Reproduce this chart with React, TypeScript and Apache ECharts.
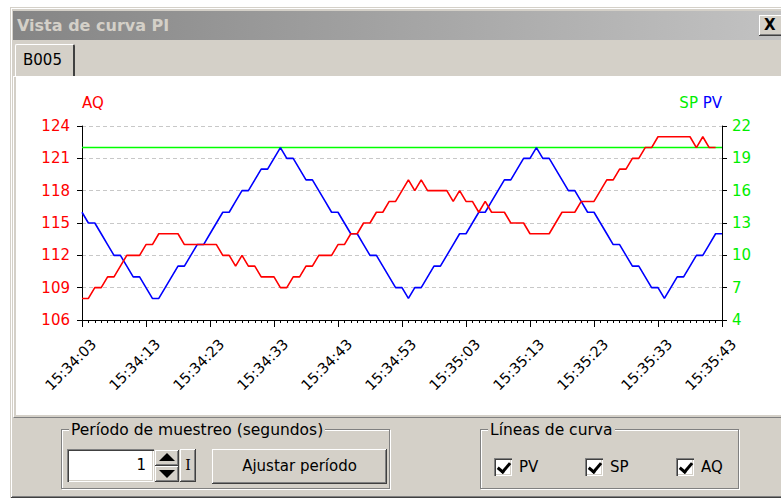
import React, { useEffect, useRef } from "react";
import * as echarts from "echarts";

// ---- data ----
const TIME_LABELS = [
  "15:34:03", "15:34:13", "15:34:23", "15:34:33", "15:34:43", "15:34:53",
  "15:35:03", "15:35:13", "15:35:23", "15:35:33", "15:35:43",
];

// PV samples, one per second (right axis)
const PV = [
  14, 13, 13, 12, 11, 10, 10, 9, 8, 8,
  7, 6, 6, 7, 8, 9, 9, 10, 11, 11,
  12, 13, 14, 14, 15, 16, 16, 17, 18, 18,
  19, 20, 19, 19, 18, 17, 17, 16, 15, 14,
  14, 13, 12, 12, 11, 10, 10, 9, 8, 7,
  7, 6, 7, 7, 8, 9, 9, 10, 11, 12,
  12, 13, 14, 14, 15, 16, 17, 17, 18, 19,
  19, 20, 19, 19, 18, 17, 16, 16, 15, 14,
  14, 13, 12, 11, 11, 10, 9, 9, 8, 7,
  7, 6, 7, 8, 8, 9, 10, 10, 11, 12,
  12,
];

// SP samples, one per second (right axis)
const SP = [
  20, 20, 20, 20, 20, 20, 20, 20, 20, 20,
  20, 20, 20, 20, 20, 20, 20, 20, 20, 20,
  20, 20, 20, 20, 20, 20, 20, 20, 20, 20,
  20, 20, 20, 20, 20, 20, 20, 20, 20, 20,
  20, 20, 20, 20, 20, 20, 20, 20, 20, 20,
  20, 20, 20, 20, 20, 20, 20, 20, 20, 20,
  20, 20, 20, 20, 20, 20, 20, 20, 20, 20,
  20, 20, 20, 20, 20, 20, 20, 20, 20, 20,
  20, 20, 20, 20, 20, 20, 20, 20, 20, 20,
  20, 20, 20, 20, 20, 20, 20, 20, 20, 20,
  20,
];

// AQ samples, one per second (left axis)
const AQ = [
  108, 108, 109, 109, 110, 110, 111, 112, 112, 112,
  113, 113, 114, 114, 114, 114, 113, 113, 113, 113,
  113, 113, 112, 112, 111, 112, 111, 111, 110, 110,
  110, 109, 109, 110, 110, 111, 111, 112, 112, 112,
  113, 113, 114, 114, 115, 115, 116, 116, 117, 117,
  118, 119, 118, 119, 118, 118, 118, 118, 117, 118,
  117, 117, 116, 117, 116, 116, 116, 115, 115, 115,
  114, 114, 114, 114, 115, 116, 116, 116, 117, 117,
  117, 118, 119, 119, 120, 120, 121, 121, 122, 122,
  123, 123, 123, 123, 123, 123, 122, 123, 122, 122,
];

const AQ_RANGE = [106, 124];
const RIGHT_RANGE = [4, 22];
const Y_STEP = 3;
const X_SPAN = 100;

const FONT = "'DejaVu Sans', Verdana, sans-serif";
const GRAY = "#d4d0c8";
const RAISED =
  "inset -1px -1px 0 #404040, inset 1px 1px 0 #ffffff, inset -2px -2px 0 #808080, inset 2px 2px 0 #d4d0c8";
const SUNKEN =
  "inset 1px 1px 0 #808080, inset 2px 2px 0 #404040, inset -1px -1px 0 #ffffff, inset -2px -2px 0 #d4d0c8";

function Chart() {
  const ref = useRef<HTMLDivElement>(null);
  useEffect(() => {
    if (!ref.current) return;
    const chart = echarts.init(ref.current, undefined, { renderer: "svg" });
    const axisText = { fontFamily: FONT, fontSize: 15 };
    chart.setOption({
      animation: false,
      backgroundColor: "#ffffff",
      grid: { left: 66, right: 59, top: 49, bottom: 95, containLabel: false },
      xAxis: {
        type: "value",
        min: 0,
        max: X_SPAN,
        interval: 10,
        axisLine: { show: true, onZero: false, lineStyle: { color: "#000000", width: 1 } },
        axisTick: { show: true, length: 7, lineStyle: { color: "#000000" } },
        minorTick: { show: true, splitNumber: 10, length: 3, lineStyle: { color: "#000000" } },
        splitLine: { show: false },
        axisLabel: {
          formatter: (v: number) => TIME_LABELS[Math.round(v / 10)] ?? "",
          rotate: 45,
          color: "#000000",
          fontFamily: FONT,
          fontSize: 14.5,
          margin: 10,
          align: "right",
          verticalAlign: "top",
          padding: [9, 0, 0, 0],
        },
      },
      yAxis: [
        {
          type: "value",
          position: "left",
          min: AQ_RANGE[0],
          max: AQ_RANGE[1],
          interval: Y_STEP,
          name: "AQ",
          nameLocation: "end",
          nameGap: 23,
          nameTextStyle: { ...axisText, color: "#ff0000", align: "left", verticalAlign: "middle" },
          axisLine: { show: true, lineStyle: { color: "#000000" } },
          axisTick: { show: true, length: 5, lineStyle: { color: "#000000" } },
          axisLabel: { ...axisText, color: "#ff0000", margin: 12 },
          splitLine: { show: true, lineStyle: { color: "#c8c8c8", type: [4, 3], width: 1 } },
        },
        {
          type: "value",
          position: "right",
          min: RIGHT_RANGE[0],
          max: RIGHT_RANGE[1],
          interval: Y_STEP,
          name: "{sp|SP} {pv|PV}",
          nameLocation: "end",
          nameGap: 23,
          nameTextStyle: {
            ...axisText,
            align: "right",
            verticalAlign: "middle",
            rich: {
              sp: { ...axisText, color: "#00ee00" },
              pv: { ...axisText, color: "#0000ff" },
            },
          },
          axisLine: { show: true, lineStyle: { color: "#000000" } },
          axisTick: { show: true, length: 5, lineStyle: { color: "#000000" } },
          axisLabel: { ...axisText, color: "#00ee00", margin: 10 },
          splitLine: { show: false },
        },
      ],
      series: [
        {
          name: "SP",
          type: "line",
          yAxisIndex: 1,
          data: SP.map((v, i) => [i, v]),
          symbol: "none",
          lineStyle: { color: "#00ff00", width: 1.6 },
          itemStyle: { color: "#00ff00" },
        },
        {
          name: "PV",
          type: "line",
          yAxisIndex: 1,
          data: PV.map((v, i) => [i, v]),
          symbol: "none",
          lineStyle: { color: "#0000ff", width: 1.6 },
          itemStyle: { color: "#0000ff" },
        },
        {
          name: "AQ",
          type: "line",
          yAxisIndex: 0,
          data: AQ.map((v, i) => [i, v]),
          symbol: "none",
          lineStyle: { color: "#ff0000", width: 1.6 },
          itemStyle: { color: "#ff0000" },
        },
      ],
    });
    return () => chart.dispose();
  }, []);
  return (
    <div
      ref={ref}
      style={{ position: "absolute", left: 16, top: 77, width: 765, height: 338, background: "#ffffff" }}
    />
  );
}

function abs(left: number, top: number, width: number, height: number, extra: React.CSSProperties = {}): React.CSSProperties {
  return { position: "absolute", left, top, width, height, boxSizing: "border-box", ...extra };
}

function CheckBox({ x, label }: { x: number; label: string }) {
  return (
    <>
      <div style={abs(x, 458, 18, 18, { background: "#ffffff", boxShadow: SUNKEN })}>
        <div
          style={{
            position: "absolute",
            left: 6,
            top: 2,
            width: 5,
            height: 10,
            borderRight: "3px solid #000",
            borderBottom: "3px solid #000",
            transform: "rotate(40deg)",
          }}
        />
      </div>
      <div style={abs(x + 25, 458, 40, 18, { fontSize: 15, lineHeight: "18px", color: "#000" })}>{label}</div>
    </>
  );
}

function GroupBox({ x, y, w, h, title }: { x: number; y: number; w: number; h: number; title: string }) {
  return (
    <div
      style={abs(x, y, w, h, {
        border: "1px solid #808080",
        boxShadow: "inset 1px 1px 0 #ffffff, 1px 1px 0 #ffffff",
      })}
    >
      <div
        style={{
          position: "absolute",
          left: 7,
          top: -9,
          height: 18,
          lineHeight: "18px",
          padding: "0 2px",
          background: GRAY,
          fontSize: 15.5,
          color: "#000",
          whiteSpace: "nowrap",
        }}
      >
        {title}
      </div>
    </div>
  );
}

export default function App() {
  return (
    <div
      style={{
        position: "fixed",
        left: 0,
        top: 0,
        width: 781,
        height: 499,
        overflow: "hidden",
        background: "#ffffff",
        fontFamily: FONT,
      }}
    >
      {/* window frame */}
      <div
        style={abs(10, 7, 800, 491, {
          background: GRAY,
          boxShadow:
            "inset 1px 1px 0 #d4d0c8, inset -1px -1px 0 #404040, inset 2px 2px 0 #ffffff, inset -2px -2px 0 #808080",
        })}
      />
      {/* title bar */}
      <div
        style={abs(13, 11, 790, 29, {
          background: "linear-gradient(to right, #858585, #c4c4c4)",
        })}
      >
        <div
          style={{
            position: "absolute",
            left: 4,
            top: 0,
            lineHeight: "29px",
            fontWeight: "bold",
            fontSize: 16,
            color: GRAY,
            whiteSpace: "nowrap",
          }}
        >
          Vista de curva PI
        </div>
      </div>
      {/* close button */}
      <div style={abs(759, 15, 24, 21, { background: GRAY, boxShadow: RAISED })}>
        <div
          style={{
            position: "absolute",
            left: 5,
            top: 0,
            lineHeight: "21px",
            fontWeight: "bold",
            fontSize: 15,
            color: "#000",
          }}
        >
          X
        </div>
      </div>
      {/* tab */}
      <div
        style={abs(15, 44, 60, 33, {
          background: GRAY,
          borderTop: "1px solid #ffffff",
          borderLeft: "1px solid #ffffff",
          borderRight: "2px solid #404040",
          borderTopLeftRadius: 2,
          borderTopRightRadius: 2,
        })}
      >
        <div style={{ position: "absolute", left: 7, top: 6, fontSize: 15, lineHeight: "18px", color: "#000" }}>B005</div>
      </div>
      {/* tab page frame */}
      <div style={abs(13, 76, 780, 342, { borderTop: "1px solid #ffffff", borderLeft: "1px solid #ffffff", borderBottom: "1px solid #808080" })} />
      <div style={abs(14, 77, 2, 340, { background: GRAY })} />
      <Chart />
      {/* sampling period group */}
      <GroupBox x={61} y={429} w={329} h={60} title="Período de muestreo (segundos)" />
      <div
        style={abs(67, 449, 87, 33, {
          background: "#ffffff",
          boxShadow: SUNKEN,
          textAlign: "right",
          paddingRight: 8,
          fontSize: 15,
          lineHeight: "33px",
          color: "#000",
        })}
      >
        1
      </div>
      <div style={abs(155, 450, 24, 16, { background: GRAY, boxShadow: RAISED })}>
        <div
          style={{
            position: "absolute",
            left: 4,
            top: 3,
            width: 0,
            height: 0,
            borderLeft: "8px solid transparent",
            borderRight: "8px solid transparent",
            borderBottom: "8px solid #000",
          }}
        />
      </div>
      <div style={abs(155, 466, 24, 16, { background: GRAY, boxShadow: RAISED })}>
        <div
          style={{
            position: "absolute",
            left: 4,
            top: 4,
            width: 0,
            height: 0,
            borderLeft: "8px solid transparent",
            borderRight: "8px solid transparent",
            borderTop: "8px solid #000",
          }}
        />
      </div>
      <div
        style={abs(180, 449, 16, 33, {
          background: GRAY,
          boxShadow: RAISED,
          textAlign: "center",
          fontFamily: "'DejaVu Serif', serif",
          fontSize: 14,
          lineHeight: "33px",
          color: "#000",
        })}
      >
        I
      </div>
      <div
        style={abs(212, 449, 175, 35, {
          background: GRAY,
          boxShadow: RAISED,
          textAlign: "center",
          fontSize: 15,
          lineHeight: "35px",
          color: "#000",
        })}
      >
        Ajustar período
      </div>
      {/* curve lines group */}
      <GroupBox x={480} y={429} w={259} h={60} title="Líneas de curva" />
      <CheckBox x={494} label="PV" />
      <CheckBox x={585} label="SP" />
      <CheckBox x={676} label="AQ" />
    </div>
  );
}
